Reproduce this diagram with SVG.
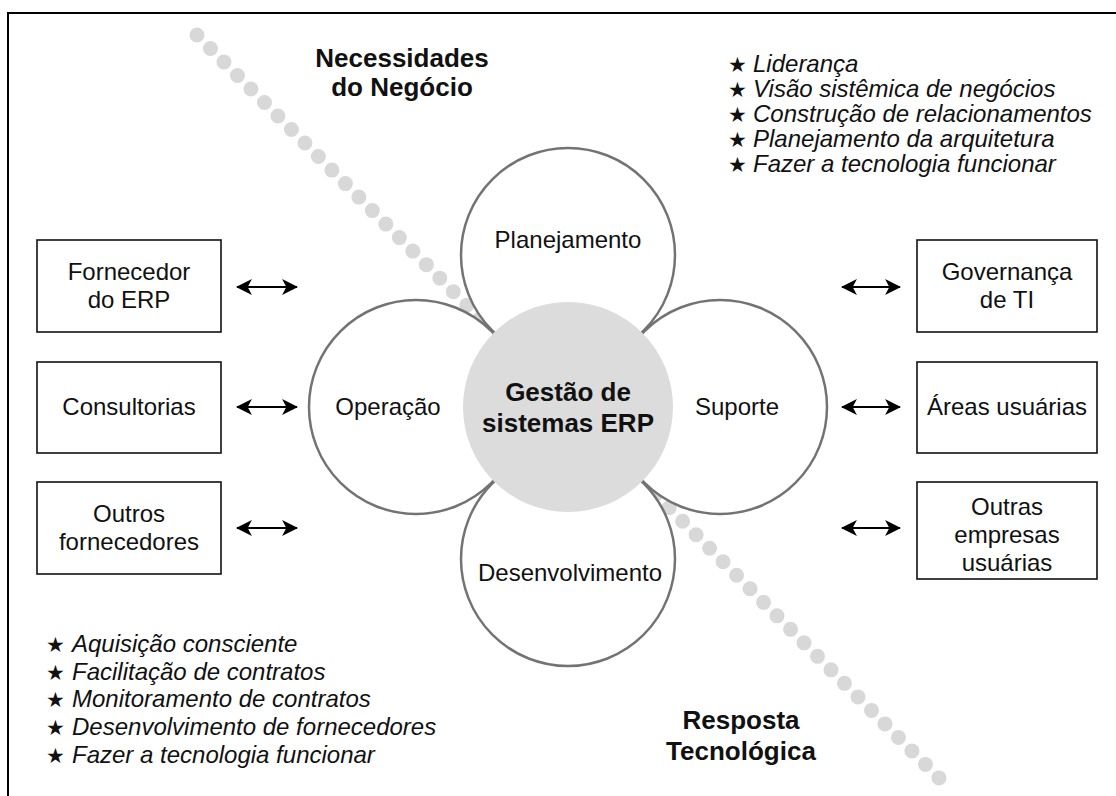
<svg xmlns="http://www.w3.org/2000/svg" width="1116" height="796" viewBox="0 0 1116 796">
  <defs>
    <style>
      text { font-family: "Liberation Sans", Arial, sans-serif; fill: #111; }
      .lbl { font-size: 24px; text-anchor: middle; }
      .ttl { font-size: 26px; font-weight: bold; text-anchor: middle; }
      .it { font-size: 24px; font-style: italic; }
      .star { font-family: "DejaVu Sans", sans-serif; font-size: 21px; }
      .box { fill: #fff; stroke: #111; stroke-width: 1.6; }
      .petal { fill: #fff; stroke: #737373; stroke-width: 2.5; }
      .arrow { stroke: #000; stroke-width: 2; fill: none; marker-start: url(#ah); marker-end: url(#ah); }
    </style>
    <marker id="ah" viewBox="0 0 15 15" refX="14" refY="7.5" markerWidth="16" markerHeight="16" markerUnits="userSpaceOnUse" orient="auto-start-reverse">
      <path d="M0,0 L15,7.5 L0,15 L4,7.5 z" fill="#000"/>
    </marker>
  </defs>

  <rect x="0" y="0" width="1116" height="796" fill="#fff"/>
  <rect x="8" y="13" width="1130" height="810" fill="none" stroke="#000" stroke-width="2"/>

  <!-- dotted diagonal -->
  <line x1="197" y1="35" x2="939" y2="778" stroke="#d8d8d8" stroke-width="15" stroke-linecap="round" stroke-dasharray="0 19.09"/>

  <!-- headings -->
  <g id="necessidades">
    <text class="ttl" x="402" y="67">Necessidades</text>
    <text class="ttl" x="402" y="96">do Negócio</text>
  </g>
  <g id="resposta">
    <text class="ttl" x="741" y="729">Resposta</text>
    <text class="ttl" x="741" y="760">Tecnológica</text>
  </g>

  <!-- top-right list -->
  <g id="lista-topo">
    <text class="star" x="728" y="72">★</text><text class="it" x="753" y="72">Liderança</text>
    <text class="star" x="728" y="97">★</text><text class="it" x="753" y="97">Visão sistêmica de negócios</text>
    <text class="star" x="728" y="122">★</text><text class="it" x="753" y="122">Construção de relacionamentos</text>
    <text class="star" x="728" y="147">★</text><text class="it" x="753" y="147">Planejamento da arquitetura</text>
    <text class="star" x="728" y="172">★</text><text class="it" x="753" y="172">Fazer a tecnologia funcionar</text>
  </g>

  <!-- bottom-left list -->
  <g id="lista-base">
    <text class="star" x="46" y="652">★</text><text class="it" x="72" y="652">Aquisição consciente</text>
    <text class="star" x="46" y="680">★</text><text class="it" x="72" y="680">Facilitação de contratos</text>
    <text class="star" x="46" y="707">★</text><text class="it" x="72" y="707">Monitoramento de contratos</text>
    <text class="star" x="46" y="735">★</text><text class="it" x="72" y="735">Desenvolvimento de fornecedores</text>
    <text class="star" x="46" y="763">★</text><text class="it" x="72" y="763">Fazer a tecnologia funcionar</text>
  </g>

  <!-- petals -->
  <g id="planejamento">
    <circle class="petal" cx="568" cy="255" r="107"/>
    <text class="lbl" x="568" y="248">Planejamento</text>
  </g>
  <g id="operacao">
    <circle class="petal" cx="416" cy="407" r="107"/>
    <text class="lbl" x="388" y="415">Operação</text>
  </g>
  <g id="suporte">
    <circle class="petal" cx="720" cy="407" r="107"/>
    <text class="lbl" x="737" y="415">Suporte</text>
  </g>
  <g id="desenvolvimento">
    <circle class="petal" cx="568" cy="559" r="107"/>
    <text class="lbl" x="570" y="581">Desenvolvimento</text>
  </g>
  <g id="gestao">
    <circle cx="568" cy="407" r="105" fill="#dcdcdc"/>
    <text class="ttl" x="568" y="401">Gestão de</text>
    <text class="ttl" x="568" y="432">sistemas ERP</text>
  </g>

  <!-- left boxes -->
  <g id="fornecedor-erp">
    <rect class="box" x="37" y="240" width="184" height="92"/>
    <text class="lbl" x="129" y="280">Fornecedor</text>
    <text class="lbl" x="129" y="308">do ERP</text>
  </g>
  <g id="consultorias">
    <rect class="box" x="37" y="362" width="184" height="91"/>
    <text class="lbl" x="129" y="415">Consultorias</text>
  </g>
  <g id="outros-fornecedores">
    <rect class="box" x="37" y="482" width="184" height="92"/>
    <text class="lbl" x="129" y="522">Outros</text>
    <text class="lbl" x="129" y="550">fornecedores</text>
  </g>

  <!-- right boxes -->
  <g id="governanca-ti">
    <rect class="box" x="917" y="240" width="180" height="92"/>
    <text class="lbl" x="1007" y="280">Governança</text>
    <text class="lbl" x="1007" y="308">de TI</text>
  </g>
  <g id="areas-usuarias">
    <rect class="box" x="917" y="362" width="180" height="91"/>
    <text class="lbl" x="1007" y="415">Áreas usuárias</text>
  </g>
  <g id="outras-empresas">
    <rect class="box" x="917" y="482" width="180" height="97"/>
    <text class="lbl" x="1007" y="515">Outras</text>
    <text class="lbl" x="1007" y="543">empresas</text>
    <text class="lbl" x="1007" y="571">usuárias</text>
  </g>

  <!-- connectors -->
  <g id="connectors">
    <line class="arrow" x1="237" y1="287" x2="297" y2="287"/>
    <line class="arrow" x1="237" y1="407" x2="297" y2="407"/>
    <line class="arrow" x1="237" y1="528" x2="297" y2="528"/>
    <line class="arrow" x1="842" y1="287" x2="900" y2="287"/>
    <line class="arrow" x1="842" y1="407" x2="900" y2="407"/>
    <line class="arrow" x1="842" y1="528" x2="900" y2="528"/>
  </g>
</svg>
